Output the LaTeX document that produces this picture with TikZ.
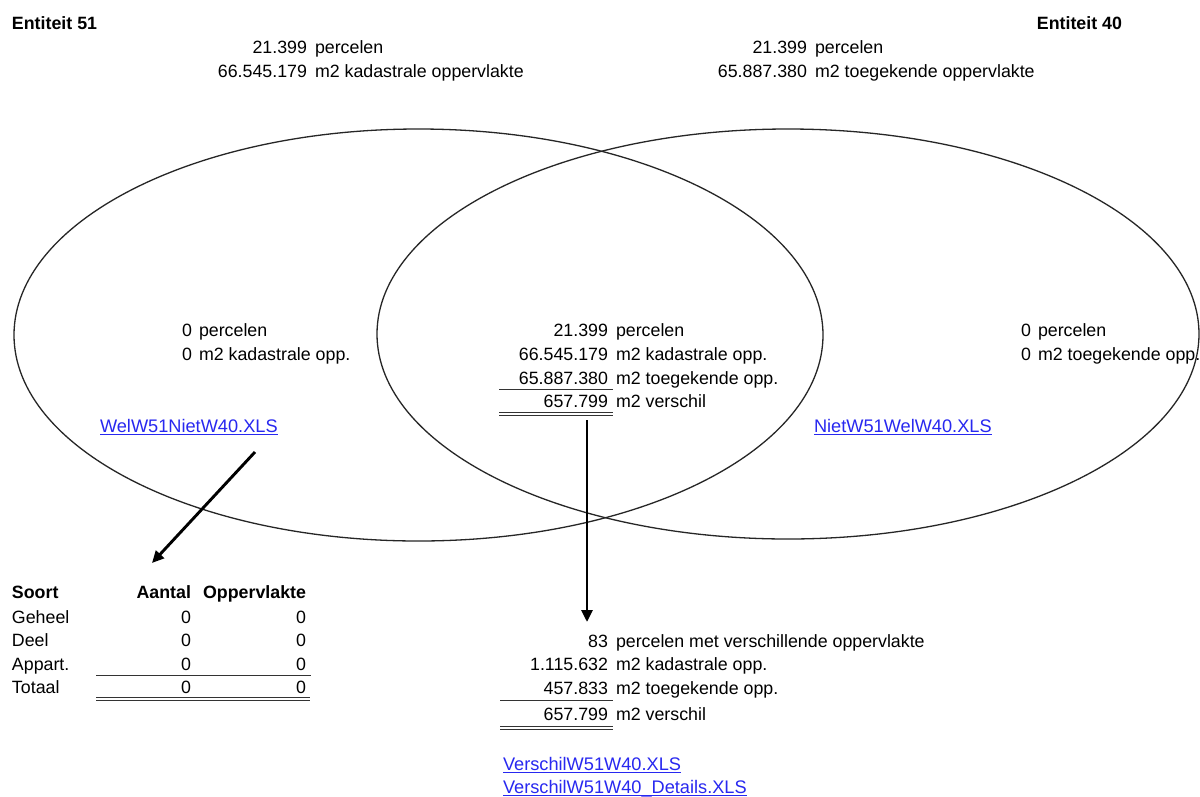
\documentclass[tikz,border=0pt]{standalone}
\usepackage{fontspec}
\setmainfont{Liberation Sans}
\usetikzlibrary{arrows.meta}
\definecolor{linkc}{RGB}{40,40,240}
\newcommand\ulk[1]{\setbox0\hbox{#1}\rlap{\rule[-3pt]{\wd0}{1.1pt}}\box0}
\begin{document}
\begin{tikzpicture}[x=1pt,y=-1pt,
  every node/.style={inner sep=0pt, outer sep=0pt, font=\fontsize{17.8}{21}\selectfont},
  num/.style={anchor=base east},
  lbl/.style={anchor=base west},
  hd/.style={font=\fontsize{17.8}{21}\selectfont\bfseries},
  lnk/.style={anchor=base west, text=linkc, font=\fontsize{18.2}{21}\selectfont},
  venn/.style={draw=black!85, line width=1.3pt},
  srule/.style={line width=1pt, draw=black!80},
  arr/.style={line width=2.9pt, -{Triangle[length=12pt,width=11pt]}}
]
\useasboundingbox (0,0) rectangle (1200,796);
\fill[white] (0,0) rectangle (1200,796);

% Venn ellipses
\draw[venn] (418.5,335) ellipse [x radius=404.5, y radius=206];
\draw[venn] (788,334) ellipse [x radius=411, y radius=205];

% headers
\node[hd, anchor=base west] (e51) at (12,29) {Entiteit 51};
\node[hd, anchor=base east] (e40) at (1122,29) {Entiteit 40};

% top left
\node[num] (tl1n) at (307,53) {21.399};
\node[lbl] (tl1l) at (315,53) {percelen};
\node[num] (tl2n) at (307,77) {66.545.179};
\node[lbl] (tl2l) at (315,77) {m2 kadastrale oppervlakte};

% top right
\node[num] (tr1n) at (807,53) {21.399};
\node[lbl] (tr1l) at (815,53) {percelen};
\node[num] (tr2n) at (807,77) {65.887.380};
\node[lbl] (tr2l) at (815,77) {m2 toegekende oppervlakte};

% left interior
\node[num] (l1n) at (192,336) {0};
\node[lbl] (l1l) at (199,336) {percelen};
\node[num] (l2n) at (192,360) {0};
\node[lbl] (l2l) at (199,360) {m2 kadastrale opp.};
\node[lnk] (lnkl) at (100,432) {\ulk{WelW51NietW40.XLS}};

% right interior
\node[num] (r1n) at (1031,336) {0};
\node[lbl] (r1l) at (1038,336) {percelen};
\node[num] (r2n) at (1031,360) {0};
\node[lbl] (r2l) at (1038,360) {m2 toegekende opp.};
\node[lnk] (lnkr) at (814,432) {\ulk{NietW51WelW40.XLS}};

% center
\node[num] (c1n) at (608,336) {21.399};
\node[lbl] (c1l) at (616,336) {percelen};
\node[num] (c2n) at (608,360) {66.545.179};
\node[lbl] (c2l) at (616,360) {m2 kadastrale opp.};
\node[num] (c3n) at (608,384) {65.887.380};
\node[lbl] (c3l) at (616,384) {m2 toegekende opp.};
\node[num] (c4n) at (608,407) {657.799};
\node[lbl] (c4l) at (616,407) {m2 verschil};
\coordinate (cu1a) at (499,389); \coordinate (cu1b) at (613,389);
\draw[srule] (cu1a) -- (cu1b);
\coordinate (cd1a) at (499,412); \coordinate (cd1b) at (613,412);
\coordinate (cd2a) at (499,415); \coordinate (cd2b) at (613,415);
\draw[srule] (cd1a) -- (cd1b);
\draw[srule] (cd2a) -- (cd2b);

% bottom center
\node[num] (b1n) at (608,647) {83};
\node[lbl] (b1l) at (616,647) {percelen met verschillende oppervlakte};
\node[num] (b2n) at (608,670) {1.115.632};
\node[lbl] (b2l) at (616,670) {m2 kadastrale opp.};
\node[num] (b3n) at (608,694) {457.833};
\node[lbl] (b3l) at (616,694) {m2 toegekende opp.};
\node[num] (b4n) at (608,720) {657.799};
\node[lbl] (b4l) at (616,720) {m2 verschil};
\coordinate (bu1a) at (500,700); \coordinate (bu1b) at (613,700);
\draw[srule] (bu1a) -- (bu1b);
\coordinate (bd1a) at (500,726); \coordinate (bd1b) at (613,726);
\coordinate (bd2a) at (500,729); \coordinate (bd2b) at (613,729);
\draw[srule] (bd1a) -- (bd1b);
\draw[srule] (bd2a) -- (bd2b);
\node[lnk] (lnkb1) at (503,770) {\ulk{VerschilW51W40.XLS}};
\node[lnk] (lnkb2) at (503,793) {\ulk{VerschilW51W40\_Details.XLS}};

% table
\node[hd, anchor=base west] (hs) at (12,598) {Soort};
\node[hd, anchor=base east] (ha) at (191,598) {Aantal};
\node[hd, anchor=base east] (ho) at (306,598) {Oppervlakte};
\node[lbl] (s1) at (12,623) {Geheel};
\node[num] (s1a) at (191,623) {0};
\node[num] (s1o) at (306,623) {0};
\node[lbl] (s2) at (12,646) {Deel};
\node[num] (s2a) at (191,646) {0};
\node[num] (s2o) at (306,646) {0};
\node[lbl] (s3) at (12,670) {Appart.};
\node[num] (s3a) at (191,670) {0};
\node[num] (s3o) at (306,670) {0};
\node[lbl] (s4) at (12,693) {Totaal};
\node[num] (s4a) at (191,693) {0};
\node[num] (s4o) at (306,693) {0};
\coordinate (tu1a) at (96,675); \coordinate (tu1b) at (311,675);
\draw[srule] (tu1a) -- (tu1b);
\coordinate (td1a) at (96,697); \coordinate (td1b) at (310,697);
\coordinate (td2a) at (96,700); \coordinate (td2b) at (310,700);
\draw[srule] (td1a) -- (td1b);
\draw[srule] (td2a) -- (td2b);

% arrows
\coordinate (a1s) at (255,452); \coordinate (a1e) at (152,563);
\draw[arr] (a1s) -- (a1e);
\coordinate (a2s) at (587,420); \coordinate (a2e) at (587,622);
\draw[arr] (a2s) -- (a2e);
\end{tikzpicture}
\end{document}
